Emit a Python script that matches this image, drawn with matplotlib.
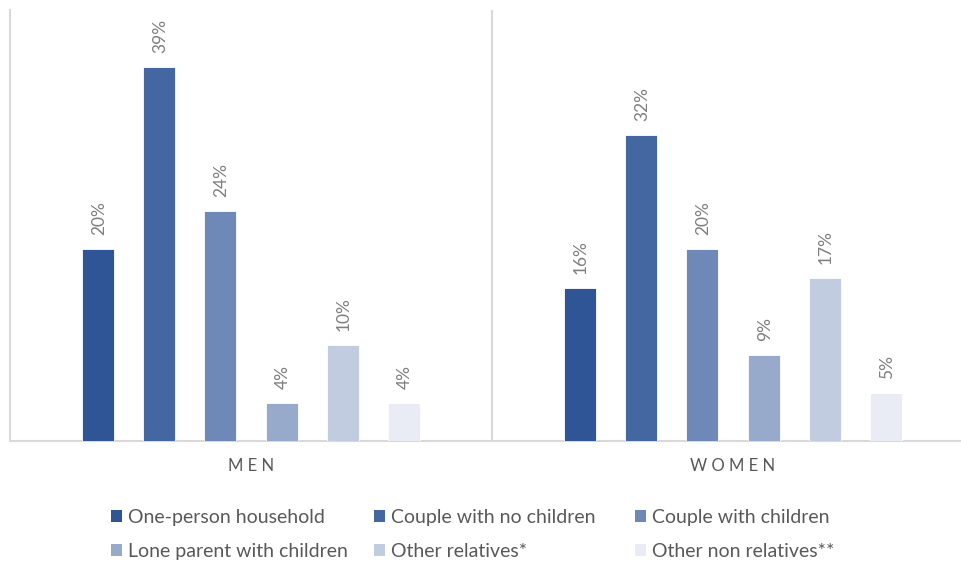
import matplotlib
matplotlib.use("Agg")
import matplotlib.pyplot as plt
from matplotlib.patches import Patch
import numpy as np

plt.rcParams['font.family'] = ['Lato', 'DejaVu Sans']

groups = ["MEN", "WOMEN"]
household_types = [
    "One-person household",
    "Couple with no children",
    "Couple with children",
    "Lone parent with children",
    "Other relatives*",
    "Other non relatives**",
]
men = [20, 39, 24, 4, 10, 4]
women = [16, 32, 20, 9, 17, 5]
colors = ["#2F5597", "#4466A1", "#6E88B7", "#98AACB", "#C1CCE1", "#E9ECF4"]

W, H = 962, 564
fig = plt.figure(figsize=(W / 100, H / 100), dpi=100)
# plot area runs slightly past the right edge of the canvas
ax = fig.add_axes([10 / W, (H - 441) / H, 964 / W, 431 / H])

values = np.array([men, women])  # shape (groups, types)
x = np.arange(len(groups))
pitch = 0.1272
width = 0.066
grid = "#D9D9D9"

for i, (label, c) in enumerate(zip(household_types, colors)):
    pos = x + (i - 2.5) * pitch
    bars = ax.bar(pos, values[:, i], width=width, color=c, edgecolor="white",
                  linewidth=0.6, label=label, zorder=3)
    for b, v in zip(bars, values[:, i]):
        ax.annotate(f"{v}%", (b.get_x() + b.get_width() / 2, b.get_height()),
                    xytext=(1, 14), textcoords="offset pixels",
                    ha="center", va="bottom", rotation=90,
                    fontsize=12.5, color="#7F7F7F")

ax.set_xlim(-0.5, 1.5)
ax.set_ylim(0, 45)
ax.set_yticks([])
ax.set_xticks([])
ax.spines["top"].set_visible(False)
for s in ["left", "right", "bottom"]:
    ax.spines[s].set_color(grid)
    ax.spines[s].set_linewidth(1.5)
ax.axvline(0.5, color=grid, linewidth=1.5, zorder=1)

for xi, g in zip(x, groups):
    ax.annotate(" ".join(g), (xi, 0), xytext=(0, -25), textcoords="offset pixels",
                ha="center", va="center", fontsize=12, color="#595959")

handles = [Patch(facecolor=c, edgecolor="none") for c in colors]
col_x = [107, 370, 631]
for j in range(3):
    fig.legend([handles[j], handles[j + 3]],
               [household_types[j], household_types[j + 3]],
               loc="upper left", bbox_to_anchor=(col_x[j] / W, 1 - 505 / H),
               frameon=False, fontsize=14, handlelength=0.55, handleheight=0.55,
               handletextpad=0.35, labelspacing=0.86, labelcolor="#595959",
               borderaxespad=0, borderpad=0.2)

fig.savefig("out.png", dpi=100)
